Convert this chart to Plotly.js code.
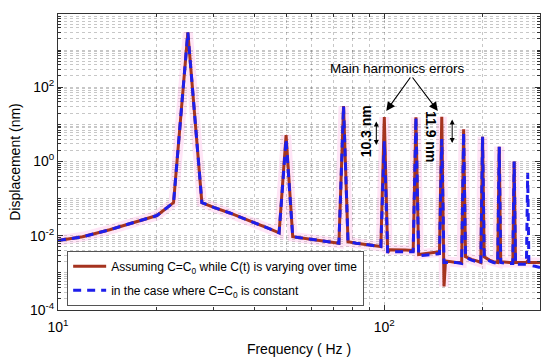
<!DOCTYPE html>
<html>
<head>
<meta charset="utf-8">
<script src="https://cdn.plot.ly/plotly-3.0.1.min.js"></script>
<style>html,body{margin:0;padding:0;background:#fff;}#chart{width:550px;height:360px;}</style>
</head>
<body>
<div id="chart"></div>
<script>
// Frequency (Hz)
var freq = [10, 11.9, 14.4, 17, 20.1, 22.6, 25, 27.6, 30, 33.6, 39.5, 44, 47.6,
  50, 52.4, 57, 62, 67, 72.6, 75, 77.4, 82, 88, 93, 97.6,
  100, 102.4, 104, 110, 116, 122.6, 125, 127.4, 133, 140, 147.6,
  150, 152.4, 154, 160, 166, 172.6, 175, 177.4, 185, 192, 197.6,
  200, 202.4, 210, 216, 222.6, 225, 227.4, 235, 242, 247.6,
  250, 252.4, 260, 267, 272.6, 275, 277.4, 290, 300];

// Displacement (nm), C = C0 while C(t) varying
var dispVarying = [0.0074, 0.0094, 0.0145, 0.022, 0.035, 0.078, 3000, 0.078, 0.058, 0.041, 0.024, 0.016, 0.012,
  5.1, 0.0094, 0.0085, 0.0077, 0.007, 0.0063, 31, 0.0069, 0.0063, 0.0057, 0.0054, 0.0051,
  15.6, 0.0035, 0.0042, 0.0042, 0.0041, 0.004, 15.5, 0.0031, 0.0033, 0.0035, 0.0037,
  16, 0.00043, 0.0021, 0.002, 0.0019, 0.0019, 7.4, 0.0027, 0.0023, 0.0021, 0.0019,
  4.6, 0.0027, 0.0022, 0.002, 0.0019, 2.5, 0.002, 0.0019, 0.0019, 0.0019,
  1.0, 0.0019, 0.0019, 0.0019, 0.0019, 0.0021, 0.0019, 0.0019, 0.0019];

// Displacement (nm), C = C0 constant
var dispConstant = [0.0074, 0.0094, 0.0145, 0.022, 0.035, 0.078, 3000, 0.078, 0.058, 0.041, 0.024, 0.016, 0.012,
  4.0, 0.0094, 0.0085, 0.0077, 0.007, 0.0063, 31, 0.0069, 0.0063, 0.0057, 0.0054, 0.0051,
  3.5, 0.0037, 0.0037, 0.0037, 0.0037, 0.0037, 15.5, 0.0029, 0.003, 0.0031, 0.0033,
  4.0, 0.0019, 0.0019, 0.0019, 0.0019, 0.0018, 6.0, 0.0026, 0.0022, 0.002, 0.0018,
  4.6, 0.0026, 0.0021, 0.0019, 0.0018, 2.5, 0.0019, 0.0018, 0.0018, 0.0018,
  1.0, 0.0017, 0.0017, 0.0017, 0.0017, 0.49, 0.0016, 0.0015, 0.0014];

var seriesNames = ['Assuming C=C<sub>0</sub> while C(t) is varying over time',
                   'in the case where C=C<sub>0</sub> is constant'];

var xTickVals = [10, 100];
var xTickText = ['10<sup>1</sup>', '10<sup>2</sup>'];
var yTickVals = [1e-4, 1e-2, 1, 100];
var yTickText = ['10<sup>-4</sup>', '10<sup>-2</sup>', '10<sup>0</sup>', '10<sup>2</sup>'];

// minor grid positions (log decade subdivisions)
var xMinor = [], yMinor = [];
for (var d = 1; d <= 2; d++) for (var m = 1; m <= 9; m++) { var v = m * Math.pow(10, d); if (v <= 300 && xTickVals.indexOf(v) < 0) xMinor.push(v); }
for (var e = -4; e <= 3; e++) for (var k = 1; k <= 9; k++) { var w = k * Math.pow(10, e); if (yTickVals.indexOf(w) < 0) yMinor.push(w); }

var font = 'Liberation Sans, Arial, sans-serif';
var red = '#A5331F', blue = '#1E1EEB';

var traces = [
  {x: freq, y: dispVarying, mode: 'lines', showlegend: false, hoverinfo: 'skip',
   line: {color: 'rgba(255,170,225,0.3)', width: 10}},
  {x: freq, y: dispVarying, mode: 'lines', name: seriesNames[0], legendgroup: 'a',
   line: {color: red, width: 3}},
  {x: freq, y: dispConstant, mode: 'lines', name: seriesNames[1], legendgroup: 'b',
   line: {color: blue, width: 3, dash: '8px,6px'}}
];

var gridC = 'rgba(0,0,0,0.22)';
var layout = {
  width: 550, height: 360,
  margin: {l: 58, r: 10, t: 14, b: 50},
  paper_bgcolor: '#fff', plot_bgcolor: '#fff',
  font: {family: font, size: 14, color: '#000'},
  showlegend: true,
  xaxis: {
    type: 'log', range: [1, Math.log10(300)],
    tickmode: 'array', tickvals: xTickVals, ticktext: xTickText,
    ticks: 'inside', ticklen: 5, tickcolor: '#333', mirror: 'ticks',
    showline: true, linecolor: '#333', linewidth: 1,
    showgrid: true, gridcolor: gridC, griddash: 'dot', gridwidth: 1,
    zeroline: false, ticklabelstandoff: 4,
    minor: {tickmode: 'array', tickvals: xMinor, ticks: 'inside', ticklen: 3, tickcolor: '#333',
            showgrid: true, gridcolor: gridC, griddash: 'dot', gridwidth: 1},
    tickfont: {size: 14},
    title: {text: 'Frequency ( Hz )', font: {size: 14}, standoff: 10}
  },
  yaxis: {
    type: 'log', range: [-4, 3.97],
    tickmode: 'array', tickvals: yTickVals, ticktext: yTickText,
    ticks: 'inside', ticklen: 5, tickcolor: '#333', mirror: 'ticks',
    showline: true, linecolor: '#333', linewidth: 1,
    showgrid: true, gridcolor: gridC, griddash: 'dot', gridwidth: 1,
    zeroline: false,
    minor: {tickmode: 'array', tickvals: yMinor, ticks: 'inside', ticklen: 3, tickcolor: '#333',
            showgrid: true, gridcolor: gridC, griddash: 'dot', gridwidth: 1},
    tickfont: {size: 14},
    title: {text: 'Displacement (nm)', font: {size: 14}, standoff: 6}
  },
  legend: {
    x: 0.019, y: 0.2, xanchor: 'left', yanchor: 'top',
    bgcolor: '#fff', bordercolor: '#555', borderwidth: 1,
    font: {size: 12, family: font}, itemwidth: 33, tracegroupgap: 5
  },
  annotations: [
    {xref: 'x', yref: 'y', x: 2.04, y: 2.51, text: 'Main harmonics errors', showarrow: false,
     font: {size: 13.5}},
    {xref: 'x', yref: 'y', axref: 'x', ayref: 'y', x: 2.006, y: 1.36, ax: 2.083, ay: 2.30,
     text: '', showarrow: true, arrowhead: 2, arrowsize: 1.6, arrowwidth: 1.1, arrowcolor: '#000'},
    {xref: 'x', yref: 'y', axref: 'x', ayref: 'y', x: 2.164, y: 1.36, ax: 2.083, ay: 2.30,
     text: '', showarrow: true, arrowhead: 2, arrowsize: 1.6, arrowwidth: 1.1, arrowcolor: '#000'},
    {xref: 'x', yref: 'y', x: 1.945, y: 0.82, text: '<b>10.3 nm</b>', showarrow: false,
     textangle: -90, font: {size: 14}},
    {xref: 'x', yref: 'y', x: 2.143, y: 0.66, text: '<b>11.9 nm</b>', showarrow: false,
     textangle: 90, font: {size: 14}},
    {xref: 'x', yref: 'y', axref: 'x', ayref: 'y', x: 1.9755, y: 0.441, ax: 1.9755, ay: 1.113,
     text: '', showarrow: true, arrowhead: 2, startarrowhead: 2, arrowside: 'end+start',
     arrowsize: 1, startarrowsize: 1, arrowwidth: 1, arrowcolor: '#000'},
    {xref: 'x', yref: 'y', axref: 'x', ayref: 'y', x: 2.208, y: 0.495, ax: 2.208, ay: 1.167,
     text: '', showarrow: true, arrowhead: 2, startarrowhead: 2, arrowside: 'end+start',
     arrowsize: 1, startarrowsize: 1, arrowwidth: 1, arrowcolor: '#000'}
  ]
};

Plotly.newPlot('chart', traces, layout, {staticPlot: true, displayModeBar: false});
</script>
</body>
</html>
